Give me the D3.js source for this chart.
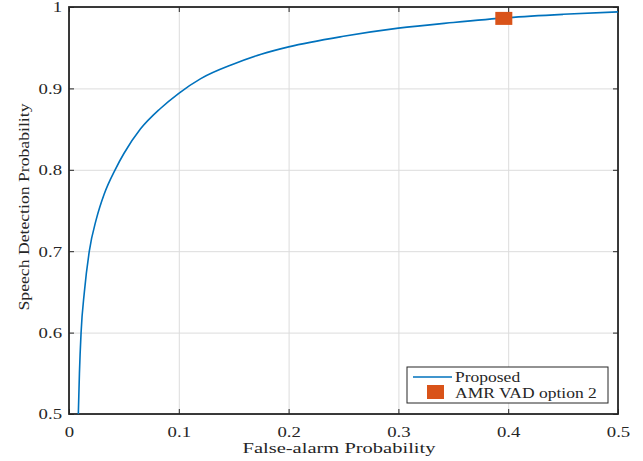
<!DOCTYPE html>
<html lang="en">
<head>
<meta charset="UTF-8">
<title>ROC - Speech Detection</title>
<script src="https://d3js.org/d3.v7.min.js"></script>
<style>
  body { margin: 0; background: #fff; }
  svg text { font-family: 'Liberation Serif', 'Times New Roman', serif; fill: #262626; }
  .tick text { font-size: 15px; }
  .grid line { stroke: #dcdcdc; stroke-width: 1; }
  .grid path { display: none; }
</style>
</head>
<body>
<svg id="chart" width="643" height="461"></svg>
<script>
// ROC curve of the proposed detector
const falseAlarm = [0.0085, 0.0095, 0.011, 0.014, 0.0185, 0.025, 0.032, 0.042, 0.05, 0.065, 0.083, 0.1, 0.12, 0.15, 0.175, 0.2, 0.25, 0.3, 0.35, 0.4, 0.45, 0.5];
const detection  = [0.5, 0.55, 0.6, 0.65, 0.7, 0.74, 0.77, 0.8, 0.82, 0.85, 0.875, 0.894, 0.912, 0.93, 0.942, 0.951, 0.964, 0.974, 0.981, 0.987, 0.991, 0.994];
// single operating point of AMR VAD option 2
const amrPoint = [0.396, 0.986];
const xTicks = [0, 0.1, 0.2, 0.3, 0.4, 0.5];
const yTicks = [0.5, 0.6, 0.7, 0.8, 0.9, 1];
const seriesNames = ["Proposed", "AMR VAD option 2"];

const svg = d3.select("#chart");
const m = { left: 69, right: 618, top: 7, bottom: 414 };
const w = m.right - m.left, h = m.bottom - m.top;
const stretch = 1.25; // the original picture is a bit wider than tall

const x = d3.scaleLinear().domain([0, 0.5]).range([m.left, m.right]);
const y = d3.scaleLinear().domain([0.5, 1]).range([m.bottom, m.top]);

// grid
svg.append("g").attr("class", "grid")
    .attr("transform", `translate(0,${m.bottom})`)
    .call(d3.axisBottom(x).tickValues(xTicks).tickSize(-h).tickFormat(""));
svg.append("g").attr("class", "grid")
    .attr("transform", `translate(${m.left},0)`)
    .call(d3.axisLeft(y).tickValues(yTicks).tickSize(-w).tickFormat(""));

// axes with inward ticks
const fmt = d => d === 0 || d === 1 ? d3.format("d")(d) : d3.format(".1f")(d);
svg.append("g").attr("class", "axis")
    .attr("transform", `translate(0,${m.bottom})`)
    .call(d3.axisBottom(x).tickValues(xTicks).tickSizeInner(-5).tickSizeOuter(0).tickPadding(12).tickFormat(fmt));
svg.append("g").attr("class", "axis")
    .attr("transform", `translate(${m.left},0)`)
    .call(d3.axisLeft(y).tickValues(yTicks).tickSizeInner(-5).tickSizeOuter(0).tickPadding(7).tickFormat(fmt));
svg.append("g").attr("class", "axis")
    .attr("transform", `translate(0,${m.top})`)
    .call(d3.axisTop(x).tickValues(xTicks).tickSizeInner(-5).tickSizeOuter(0).tickFormat(""));
svg.append("g").attr("class", "axis")
    .attr("transform", `translate(${m.right},0)`)
    .call(d3.axisRight(y).tickValues(yTicks).tickSizeInner(-5).tickSizeOuter(0).tickFormat(""));
svg.selectAll(".domain").remove();
svg.selectAll(".axis .tick line").attr("stroke", "#262626").attr("stroke-width", 1);

// box
svg.append("rect")
    .attr("x", m.left).attr("y", m.top).attr("width", w).attr("height", h)
    .attr("fill", "none").attr("stroke", "#262626").attr("stroke-width", 1.8);

// curve
const line = d3.line()
    .x(d => x(d))
    .y((d, i) => y(detection[i]))
    .curve(d3.curveMonotoneX);
svg.append("path")
    .datum(falseAlarm)
    .attr("d", line)
    .attr("fill", "none")
    .attr("stroke", "#0072BD")
    .attr("stroke-width", 1.6);

// AMR marker
svg.append("rect")
    .attr("x", x(amrPoint[0]) - 8.5).attr("y", y(amrPoint[1]) - 6.5)
    .attr("width", 17).attr("height", 13)
    .attr("fill", "#D95319");

// axis labels
svg.append("text")
    .attr("x", 339).attr("y", 453)
    .attr("text-anchor", "middle").style("font-size", "15px")
    .attr("textLength", 193).attr("lengthAdjust", "spacingAndGlyphs")
    .text("False-alarm Probability");
svg.append("text")
    .attr("transform", `translate(29,207) rotate(-90)`)
    .attr("text-anchor", "middle").style("font-size", "15px")
    .attr("textLength", 207).attr("lengthAdjust", "spacingAndGlyphs")
    .text("Speech Detection Probability");

// legend
const lg = svg.append("g");
lg.append("rect")
    .attr("x", 407).attr("y", 367).attr("width", 201).attr("height", 36)
    .attr("fill", "#fff").attr("stroke", "#262626").attr("stroke-width", 1);
lg.append("line")
    .attr("x1", 413).attr("x2", 452).attr("y1", 377).attr("y2", 377)
    .attr("stroke", "#0072BD").attr("stroke-width", 1.6);
lg.append("rect")
    .attr("x", 427).attr("y", 385).attr("width", 17).attr("height", 14)
    .attr("fill", "#D95319");
lg.selectAll("text.leg").data(seriesNames).join("text")
    .attr("class", "leg")
    .attr("x", 455).attr("y", (d, i) => 382 + i * 16)
    .style("font-size", "14px")
    .text(d => d);

// widen tick and legend texts like the original
svg.selectAll(".axis .tick text, text.leg").each(function() {
    const len = this.getComputedTextLength();
    if (len > 0) d3.select(this).attr("textLength", len * stretch).attr("lengthAdjust", "spacingAndGlyphs");
});
</script>
</body>
</html>
